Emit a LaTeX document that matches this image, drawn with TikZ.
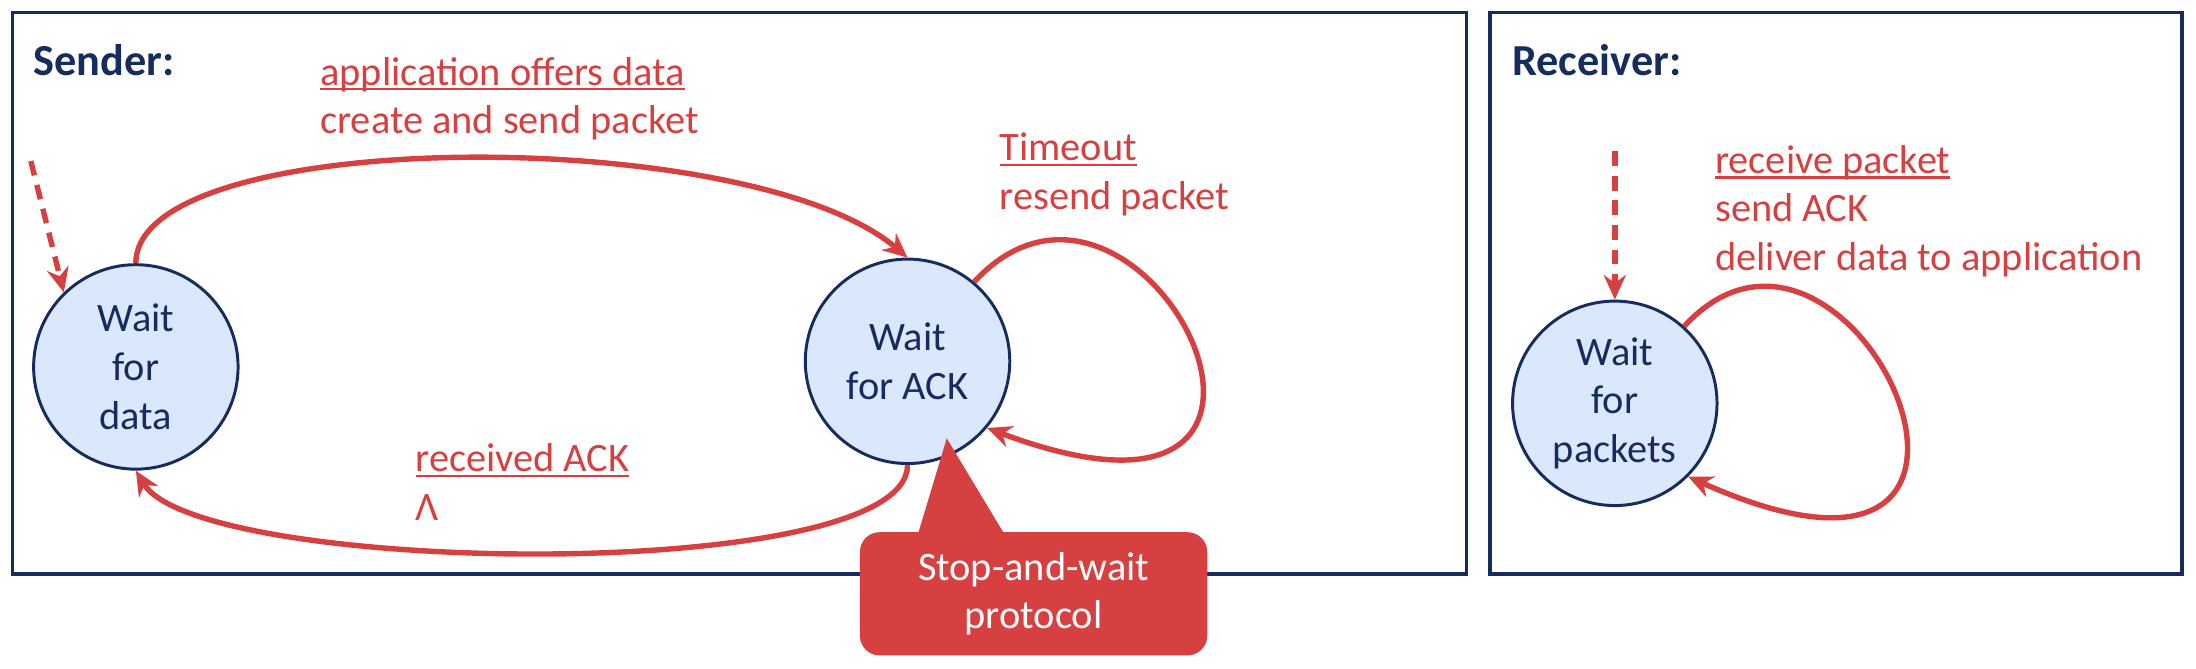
\documentclass[tikz,border=0pt]{standalone}
\usepackage{fontspec}
\setmainfont{Carlito}
\usetikzlibrary{positioning,arrows.meta}
\definecolor{fsmred}{RGB}{214,64,65}
\definecolor{fsmnavy}{RGB}{22,44,94}
\definecolor{fsmfill}{RGB}{218,231,252}
% underline that sits just under the baseline
\newcommand\trig[1]{\setbox0\hbox{#1}\rlap{\rule[-1.1pt]{\wd0}{0.45pt}}\box0}

\begin{document}
\begin{tikzpicture}[
      state/.style={circle, draw=fsmnavy, semithick, fill=fsmfill, minimum size=1.46cm,
                    inner sep=0pt, align=center, text=fsmnavy},
      frame/.style={draw=fsmnavy, line width=0.7pt},
      arr/.style={-{Stealth[length=5pt,width=4.5pt]}, fsmred, line width=1.1pt},
      init/.style={arr, dash pattern=on 3pt off 2pt},
      lbl/.style={anchor=north west, inner sep=0pt, align=left, text=fsmred},
      head/.style={anchor=north west, inner sep=0pt, font=\fontsize{9}{11}\selectfont\bfseries,
                   text=fsmnavy},
      note/.style={fill=fsmred, text=white, rounded corners=4pt, minimum width=2.48cm,
                   minimum height=0.88cm, align=center},
      font=\fontsize{8.2}{9.9}\selectfont]
    \useasboundingbox (0,0) rectangle (15.68,4.77);
    % the two machines
    \draw[frame] (0.09,0.67) rectangle (10.47,4.68);
    \draw[frame] (10.64,0.67) rectangle (15.58,4.68);
    \node[head] (snd) at (0.23,4.46) {Sender:};
    \node[head] (rcv) at (10.79,4.46) {Receiver:};
    % sender
    \node[state] (data) at (0.97,2.15) {Wait\\for\\data};
    \node[state] (ack) at (6.48,2.19) {Wait\\for ACK};
    \coordinate (dstart) at (0.22,3.62);
    \draw[init] (dstart) -- (data.134);
    \draw[arr] (data.north) .. controls +(0,0.98) and +(-1.13,0.96) .. (ack.north);
    \draw[arr] (ack.south) .. controls +(0,-0.86) and +(0.45,-0.75) .. (data.south);
    \draw[arr] (ack.50) .. controls +(1.2,1.3) and +(2.8,-1.05) .. (ack.-40);
    \node[lbl] (offer) at (2.28,4.37) {\trig{application offers data}\\create and send packet};
    \node[lbl] (tout) at (7.13,3.83) {\trig{Timeout}\\resend packet};
    \node[lbl] (gotack) at (2.96,1.61) {\trig{received ACK}\\Λ};
    % receiver
    \node[state] (pkt) at (11.53,1.89) {Wait\\for\\packets};
    \coordinate (pstart) at (11.53,3.69);
    \draw[init] (pstart) -- (pkt.north);
    \draw[arr] (pkt.48) .. controls +(1.2,1.3) and +(2.8,-1.25) .. (pkt.-45);
    \node[lbl] (deliver) at (12.24,3.74) {\trig{receive packet}\\send ACK\\deliver data to application};
    % callout
    \coordinate (tip) at (6.76,1.64);
    \node[note] (swp) at (7.38,0.53) {Stop-and-wait\\protocol};
    \fill[fsmred] ([xshift=-0.83cm,yshift=-1pt]swp.north) -- (tip)
          -- ([xshift=-0.2cm,yshift=-1pt]swp.north) -- cycle;
  \end{tikzpicture}
\end{document}
